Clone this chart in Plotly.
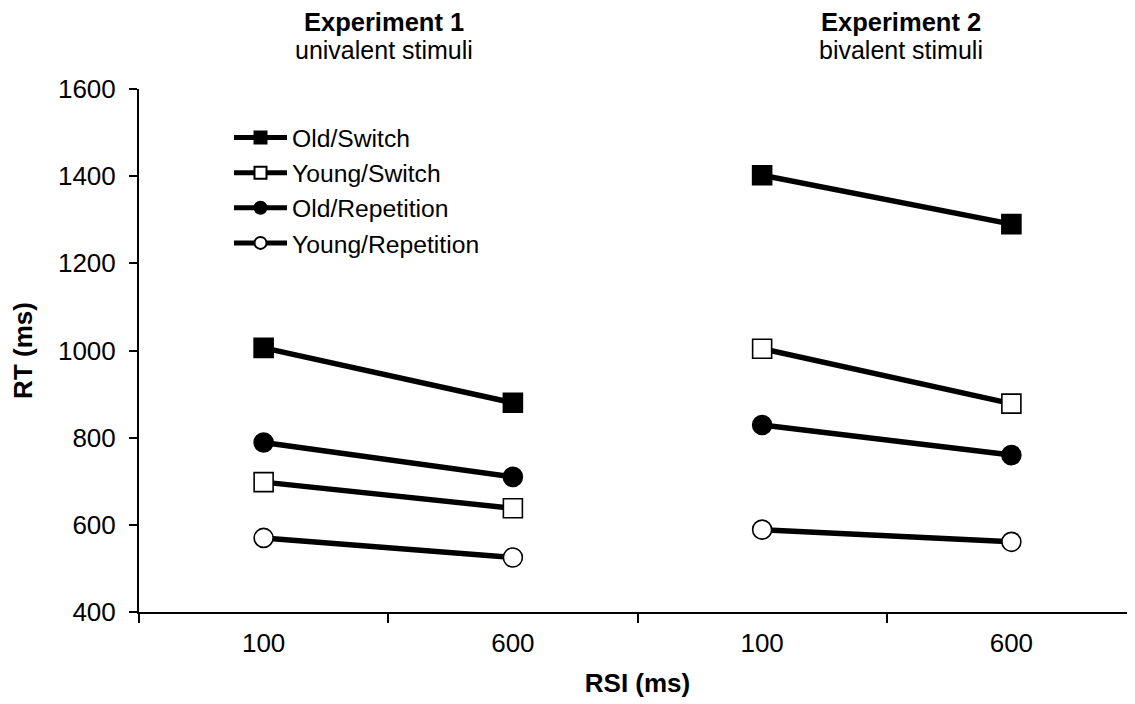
import plotly.graph_objects as go

# ---------------- data ----------------
rsi_labels = ["100", "600", "100", "600"]
experiments = ["Experiment 1", "Experiment 2"]
subtitles = ["univalent stimuli", "bivalent stimuli"]

series_names = ["Old/Switch", "Young/Switch", "Old/Repetition", "Young/Repetition"]
old_switch = [1006, 880, 1402, 1290]
young_switch = [698, 638, 1004, 878]
old_repetition = [789, 710, 829, 760]
young_repetition = [570, 525, 589, 561]
y_ticks = [400, 600, 800, 1000, 1200, 1400, 1600]

# ---------------- style ----------------
FONT = "Liberation Sans, Arial, sans-serif"
W, H = 1135, 704
OFF = 8  # page body margin offset
ML, MR, MT, MB = 131, 7, 81, 100
PH = H - MT - MB
PW = W - ML - MR

styles = {
    "Old/Switch": dict(symbol="square", color="black"),
    "Young/Switch": dict(symbol="square", color="white"),
    "Old/Repetition": dict(symbol="circle", color="black"),
    "Young/Repetition": dict(symbol="circle", color="white"),
}
values = {
    "Old/Switch": old_switch,
    "Young/Switch": young_switch,
    "Old/Repetition": old_repetition,
    "Young/Repetition": young_repetition,
}

xs = list(range(len(rsi_labels)))
half = len(rsi_labels) // 2

fig = go.Figure()
for name in series_names:
    v = values[name]
    # break the line between the two experiments
    x = xs[:half] + [None] + xs[half:]
    y = v[:half] + [None] + v[half:]
    st = styles[name]
    fig.add_trace(go.Scatter(
        x=x, y=y, name=name, mode="lines+markers", connectgaps=False,
        line=dict(color="black", width=5.5),
        marker=dict(symbol=st["symbol"], size=19, color=st["color"],
                    line=dict(color="black", width=1.6)),
    ))

bounds = [i - 0.5 for i in range(len(rsi_labels) + 1)]

fig.update_xaxes(
    automargin=False,
    range=[-0.5, len(rsi_labels) - 0.5],
    tickmode="array", tickvals=xs, ticktext=rsi_labels,
    ticks="", ticklabelstandoff=7,
    minor=dict(tickmode="array", tickvals=bounds, ticks="outside",
               ticklen=9, tickwidth=2, tickcolor="black"),
    showline=True, linecolor="black", linewidth=2,
    showgrid=False, zeroline=False,
    tickfont=dict(family=FONT, size=26, color="black"),
    title=dict(text="<b>RSI (ms)</b>", font=dict(family=FONT, size=26, color="black"),
               standoff=17),
)
fig.update_yaxes(
    automargin=False,
    range=[400, 1600], tickmode="array", tickvals=y_ticks,
    ticks="outside", ticklen=8, tickwidth=2, tickcolor="black",
    ticklabelstandoff=8,
    showline=True, linecolor="black", linewidth=2,
    showgrid=False, zeroline=False,
    tickfont=dict(family=FONT, size=26, color="black"),
    title=dict(text="<b>RT (ms)</b>", font=dict(family=FONT, size=26, color="black"),
               standoff=19),
)

# helpers: convert screen pixel positions into paper coordinates
def py(pix):
    return (H - MB - (pix - OFF)) / PH

def px(pix):
    return ((pix - OFF) - ML) / PW

title_x = [384, 901]
for i, (t, s) in enumerate(zip(experiments, subtitles)):
    fig.add_annotation(x=px(title_x[i]), y=py(21.7), xref="paper", yref="paper",
                       text="<b>%s</b>" % t, showarrow=False, xanchor="center",
                       yanchor="middle", font=dict(family=FONT, size=25.5, color="black"))
    fig.add_annotation(x=px(title_x[i]), y=py(50.5), xref="paper", yref="paper",
                       text=s, showarrow=False, xanchor="center",
                       yanchor="middle", font=dict(family=FONT, size=25, color="black"))

fig.update_layout(
    width=W, height=H,
    margin=dict(l=ML, r=MR, t=MT, b=MB),
    paper_bgcolor="white", plot_bgcolor="white",
    font=dict(family=FONT, color="black"),
    legend=dict(x=px(229), y=py(115), xanchor="left", yanchor="top",
                bgcolor="rgba(0,0,0,0)", itemsizing="constant", itemwidth=53,
                font=dict(family=FONT, size=24.7, color="black")),
)

fig.write_html("out.html")
